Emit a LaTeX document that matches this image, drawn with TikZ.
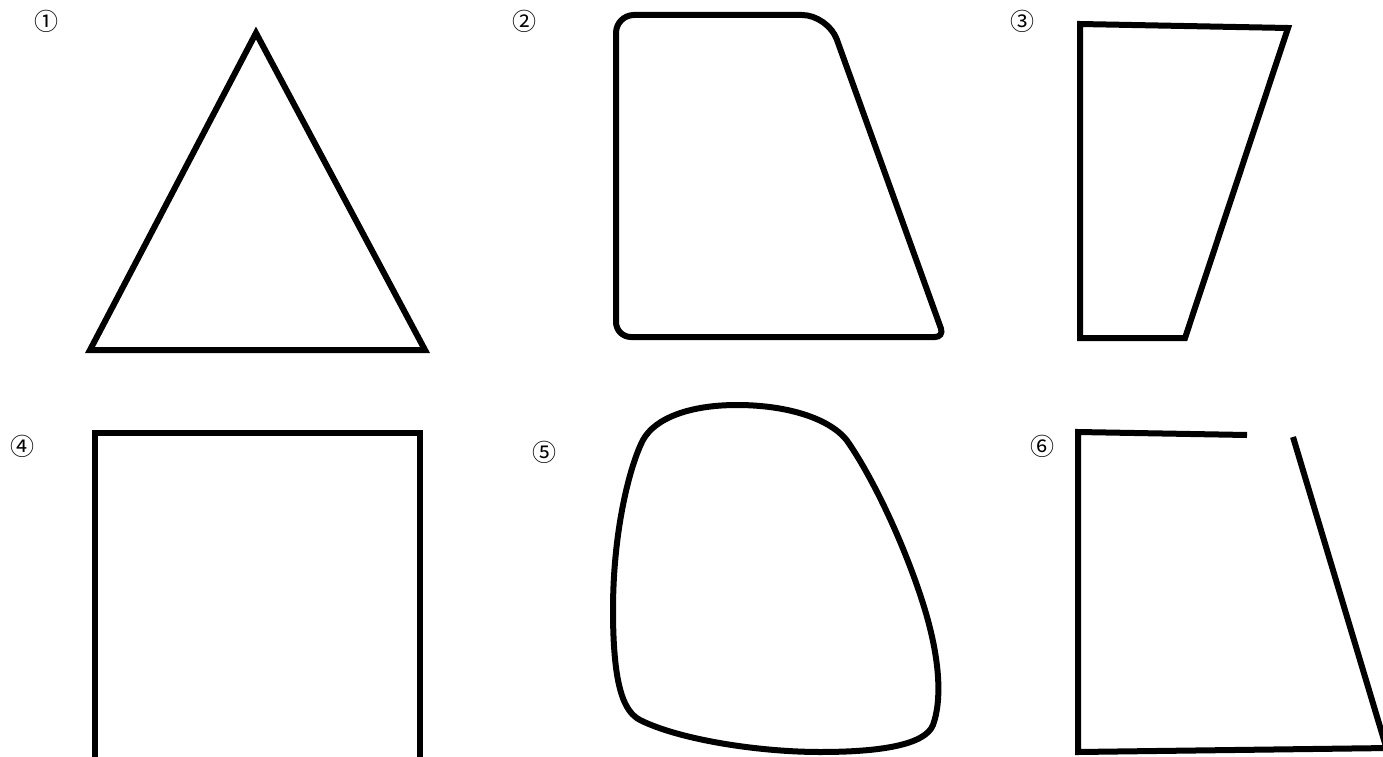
\documentclass[tikz,border=0pt]{standalone}
\usepackage{fontspec}
\newfontfamily\numfont{Noto Sans CJK JP}
\usetikzlibrary{calc}

\begin{document}
\begin{tikzpicture}[
  x=1pt, y=-1pt,
  outline/.style={draw=black, line width=6pt, line join=miter},
  numlabel/.style={font=\numfont\fontsize{24}{24}\selectfont, inner sep=0pt}
]

% Canvas
\useasboundingbox (0,0) rectangle (1383,757);

% Labels
\node[numlabel] (n1) at (46,21) {①};
\node[numlabel] (n2) at (524,21) {②};
\node[numlabel] (n3) at (1022,21) {③};
\node[numlabel] (n4) at (22,446) {④};
\node[numlabel] (n5) at (544,452) {⑤};
\node[numlabel] (n6) at (1042,446) {⑥};

% Shape 1: triangle
\draw[outline] (256,33) -- (425,350) -- (90,350) -- cycle;

% Shape 2: rounded trapezoid
\draw[outline] (616,200) [rounded corners=18] -- (616,15)
  [rounded corners=26] -- (828,15)
  [rounded corners=9] -- (944,337)
  [rounded corners=15] -- (616,337) -- cycle;

% Shape 3: quadrilateral
\draw[outline] (1080,24) -- (1288,28) -- (1185,338) -- (1080,338) -- cycle;

% Shape 4: open rectangle
\draw[outline] (95,760) -- (95,433) -- (420,433) -- (420,760);

% Shape 5: blob
\draw[outline] (737,405) .. controls (690,405) and (655,418) .. (643,440)
  .. controls (630,465) and (613,530) .. (613,610)
  .. controls (613,690) and (625,712) .. (640,720)
  .. controls (680,740) and (760,752) .. (820,752)
  .. controls (880,752) and (925,745) .. (933,725)
  .. controls (942,700) and (940,660) .. (925,610)
  .. controls (910,560) and (880,490) .. (850,445)
  .. controls (835,420) and (790,405) .. (737,405) -- cycle;

% Shape 6: broken quadrilateral
\draw[outline] (1247,435) -- (1078,432) -- (1078,752) -- (1390,748);
\draw[outline] (1293,437) -- (1390,760);

\end{tikzpicture}
\end{document}
